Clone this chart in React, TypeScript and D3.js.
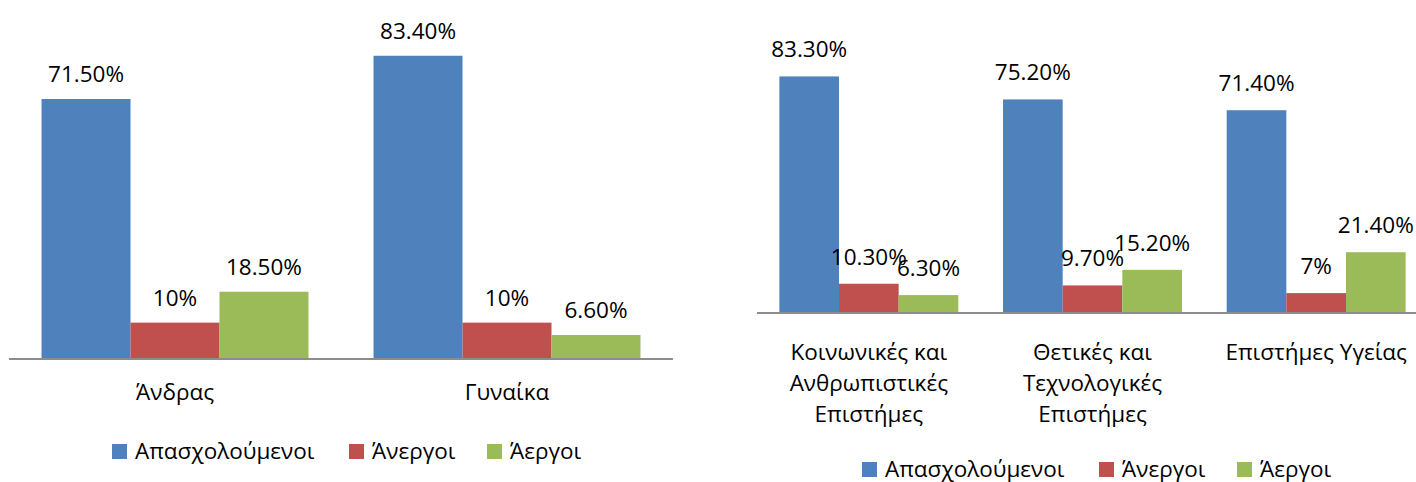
import React from "react";
import * as d3 from "d3";

const seriesNames = ["Απασχολούμενοι", "Άνεργοι", "Άεργοι"];
const seriesColors = ["#4F81BD", "#C0504D", "#9BBB59"];

const leftCategories = ["Άνδρας", "Γυναίκα"];
const leftEmployed = [71.5, 83.4];
const leftUnemployed = [10, 10];
const leftInactive = [18.5, 6.6];

const rightCategories = [
  ["Κοινωνικές και", "Ανθρωπιστικές", "Επιστήμες"],
  ["Θετικές και", "Τεχνολογικές", "Επιστήμες"],
  ["Επιστήμες Υγείας"],
];
const rightEmployed = [83.3, 75.2, 71.4];
const rightUnemployed = [10.3, 9.7, 7];
const rightInactive = [6.3, 15.2, 21.4];

const FONT = "'Open Sans', sans-serif";

function fmt(v: number) {
  return Number.isInteger(v) ? `${v}%` : `${v.toFixed(2)}%`;
}

type PanelProps = {
  cats: string[][];
  series: number[][];
  x0: number;
  x1: number;
  baseY: number;
  pxPerPct: number;
  padding: number;
  labelGap: number;
  catBaseline: number;
  lineH: number;
  legendX: number;
  legendY: number;
};

function Panel(p: PanelProps) {
  const keys = p.cats.map((c) => c.join(" "));
  const xb = d3
    .scaleBand<string>()
    .domain(keys)
    .range([p.x0, p.x1])
    .paddingInner(p.padding)
    .paddingOuter(p.padding / 2);
  const xs = d3
    .scaleBand<number>()
    .domain(d3.range(p.series.length))
    .range([0, xb.bandwidth()]);
  const y = d3
    .scaleLinear()
    .domain([0, 100])
    .range([p.baseY, p.baseY - 100 * p.pxPerPct]);

  const legendOffsets = [0, 237, 375];

  return (
    <g>
      {keys.map((k, ci) =>
        p.series.map((s, si) => {
          const v = s[ci];
          const bx = (xb(k) as number) + (xs(si) as number);
          return (
            <rect
              key={`${ci}-${si}`}
              x={bx}
              y={y(v)}
              width={xs.bandwidth()}
              height={p.baseY - y(v)}
              fill={seriesColors[si]}
            />
          );
        })
      )}
      <line
        x1={p.x0}
        x2={p.x1}
        y1={p.baseY}
        y2={p.baseY}
        stroke="#8C8C8C"
        strokeWidth={2}
      />
      {keys.map((k, ci) =>
        p.series.map((s, si) => {
          const v = s[ci];
          const bx = (xb(k) as number) + (xs(si) as number);
          return (
            <text
              key={`l-${ci}-${si}`}
              x={bx + xs.bandwidth() / 2}
              y={y(v) - p.labelGap}
              textAnchor="middle"
              fontFamily={FONT}
              fontSize={22.5}
              fill="#000"
            >
              {fmt(v)}
            </text>
          );
        })
      )}
      {p.cats.map((lines, ci) => (
        <text
          key={`c-${ci}`}
          textAnchor="middle"
          fontFamily={FONT}
          fontSize={22.5}
          fill="#000"
        >
          {lines.map((ln, li) => (
            <tspan
              key={li}
              x={(xb(keys[ci]) as number) + xb.bandwidth() / 2}
              y={p.catBaseline + li * p.lineH}
            >
              {ln}
            </tspan>
          ))}
        </text>
      ))}
      {seriesNames.map((n, si) => (
        <g key={`lg-${si}`}>
          <rect
            x={p.legendX + legendOffsets[si]}
            y={p.legendY - 15}
            width={15}
            height={15}
            fill={seriesColors[si]}
          />
          <text
            x={p.legendX + legendOffsets[si] + 23}
            y={p.legendY}
            fontFamily={FONT}
            fontSize={22.5}
            fill="#000"
          >
            {n}
          </text>
        </g>
      ))}
    </g>
  );
}

export default function App() {
  return (
    <svg
      width={1416}
      height={482}
      style={{ position: "absolute", left: 0, top: 0, background: "#fff" }}
    >
      <rect x={0} y={0} width={1416} height={482} fill="#fff" />
      <Panel
        cats={leftCategories.map((c) => [c])}
        series={[leftEmployed, leftUnemployed, leftInactive]}
        x0={9}
        x1={673}
        baseY={359}
        pxPerPct={3.636}
        padding={0.196}
        labelGap={17}
        catBaseline={400}
        lineH={31}
        legendX={112}
        legendY={459}
      />
      <Panel
        cats={rightCategories}
        series={[rightEmployed, rightUnemployed, rightInactive]}
        x0={757}
        x1={1428}
        baseY={313}
        pxPerPct={2.84}
        padding={0.2}
        labelGap={19}
        catBaseline={360}
        lineH={31}
        legendX={862}
        legendY={477}
      />
    </svg>
  );
}
